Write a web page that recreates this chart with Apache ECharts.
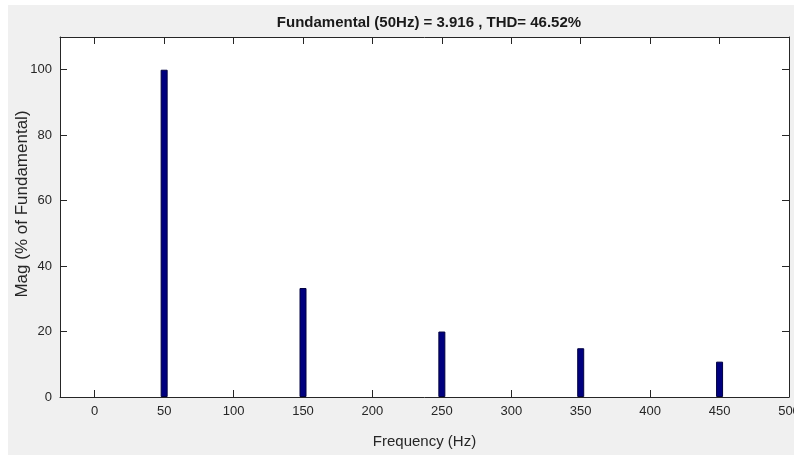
<!DOCTYPE html>
<html>
<head>
<meta charset="utf-8">
<script src="https://cdn.jsdelivr.net/npm/echarts@6/dist/echarts.min.js"></script>
<style>
html,body{margin:0;padding:0;background:#fff;}
#c{width:794px;height:455px;}
</style>
</head>
<body>
<div id="c"></div>
<script>
var frequencies = [50, 150, 250, 350, 450];
var magnitudes = [100, 33.3, 20.0, 14.9, 10.8];
var xTicks = [0, 50, 100, 150, 200, 250, 300, 350, 400, 450, 500];
var yTicks = [0, 20, 40, 60, 80, 100];
var titleText = 'Fundamental (50Hz) = 3.916 , THD= 46.52%';
var xName = 'Frequency (Hz)';
var yName = 'Mag (% of Fundamental)';

var font = "'Liberation Sans', Arial, sans-serif";
var chart = echarts.init(document.getElementById('c'), null, {renderer: 'canvas'});
var axisCol = '#262626';
function xAxisDef(pos, show) {
  return {
    type: 'value', position: pos, min: -25, max: 500,
    axisLine: {show: true, onZero: false, lineStyle: {color: axisCol, width: 1}},
    axisTick: {show: true, inside: true, length: 7, customValues: xTicks, lineStyle: {color: axisCol}},
    axisLabel: {show: show, customValues: xTicks, color: '#262626', fontFamily: font, fontSize: 13, margin: 8},
    splitLine: {show: false},
    name: show ? xName : '', nameLocation: 'middle', nameGap: 37,
    nameTextStyle: {fontFamily: font, fontSize: 15, color: '#262626'}
  };
}
function yAxisDef(pos, show) {
  return {
    type: 'value', position: pos, min: 0, max: 110,
    axisLine: {show: true, onZero: false, lineStyle: {color: axisCol, width: 1}},
    axisTick: {show: true, inside: true, length: 7, customValues: yTicks, lineStyle: {color: axisCol}},
    axisLabel: {show: show, customValues: yTicks, color: '#262626', fontFamily: font, fontSize: 13, margin: 8},
    splitLine: {show: false}
  };
}
chart.setOption({
  backgroundColor: '#ffffff',
  animation: false,
  graphic: [{
    type: 'rect', z: -10, silent: true,
    shape: {x: 8, y: 5, width: 786, height: 450},
    style: {fill: '#f0f0f0'}
  }, {
    type: 'text', silent: true, x: 22, y: 204, rotation: Math.PI / 2,
    style: {text: yName, fontFamily: font, fontSize: 17, fill: '#262626', align: 'center', verticalAlign: 'middle'}
  }],
  title: {
    text: titleText, left: 424, top: 10, textAlign: 'center',
    textStyle: {fontFamily: font, fontWeight: 'bold', fontSize: 15, color: '#1a1a1a'}
  },
  grid: {left: 60, right: 5, top: 37, bottom: 58, show: true, backgroundColor: '#ffffff', borderWidth: 0,
         containLabel: false, outerBoundsMode: 'none'},
  xAxis: [xAxisDef('bottom', true), xAxisDef('top', false)],
  yAxis: [yAxisDef('left', true), yAxisDef('right', false)],
  series: [{
    type: 'bar', xAxisIndex: 0, yAxisIndex: 0, barWidth: 7,
    itemStyle: {color: '#00007e', borderColor: '#000040', borderWidth: 1},
    data: frequencies.map(function (f, i) { return [f, magnitudes[i]]; })
  }]
});
</script>
</body>
</html>
